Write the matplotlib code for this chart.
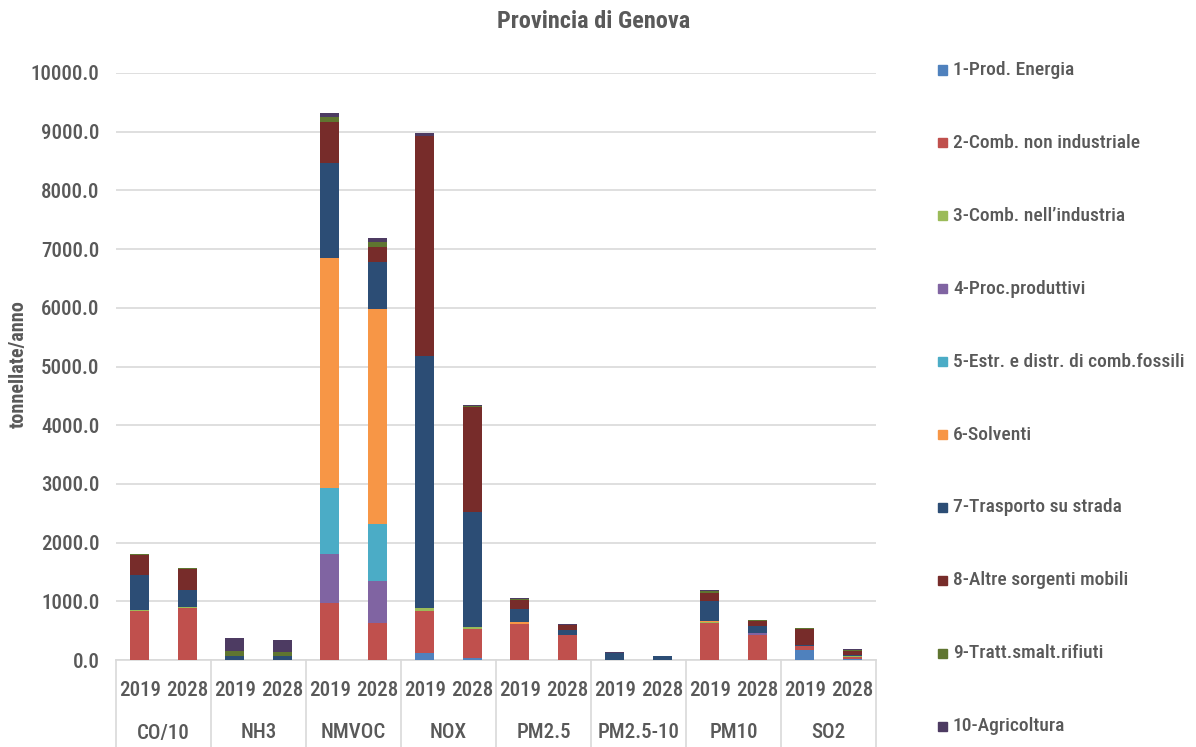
import matplotlib
matplotlib.use("Agg")
import matplotlib.pyplot as plt
from matplotlib import font_manager
from matplotlib.font_manager import FontProperties
from matplotlib.patches import Rectangle
import numpy as np

pollutants = ["CO/10", "NH3", "NMVOC", "NOX", "PM2.5", "PM2.5-10", "PM10", "SO2"]
years = ["2019", "2028"]

sources = [
    "1-Prod. Energia",
    "2-Comb. non industriale",
    "3-Comb. nell\u2019industria",
    "4-Proc.produttivi",
    "5-Estr. e distr. di comb.fossili",
    "6-Solventi",
    "7-Trasporto su strada",
    "8-Altre sorgenti mobili",
    "9-Tratt.smalt.rifiuti",
    "10-Agricoltura",
]

# values per pollutant, 2019 then 2028 (t/anno)
prod_energia = [0, 0, 0, 0, 0, 0, 115, 30, 0, 0, 0, 0, 0, 0, 176, 20]
comb_non_ind = [840, 880, 0, 0, 965, 625, 720, 500, 610, 426, 0, 0, 635, 423, 60, 35]
comb_ind = [5, 20, 0, 0, 0, 0, 45, 40, 5, 0, 0, 0, 5, 0, 5, 5]
proc_produttivi = [0, 0, 0, 0, 840, 720, 0, 0, 0, 0, 0, 0, 0, 36, 0, 15]
estr_distr = [0, 0, 0, 0, 1130, 965, 0, 0, 0, 0, 0, 0, 0, 0, 0, 0]
solventi = [0, 0, 0, 0, 3920, 3665, 0, 0, 25, 0, 0, 0, 25, 0, 0, 0]
trasporto = [608, 300, 70, 60, 1605, 810, 4300, 1950, 230, 85, 120, 70, 335, 128, 15, 10]
altre_mobili = [340, 350, 0, 0, 705, 255, 3753, 1790, 145, 80, 0, 0, 140, 83, 280, 75]
rifiuti = [15, 20, 80, 70, 80, 75, 0, 15, 25, 5, 0, 0, 30, 5, 5, 15]
agricoltura = [0, 0, 230, 210, 80, 70, 50, 25, 10, 10, 10, 5, 15, 10, 5, 5]

series = [prod_energia, comb_non_ind, comb_ind, proc_produttivi, estr_distr,
          solventi, trasporto, altre_mobili, rifiuti, agricoltura]
colors = ["#4F81BD", "#C0504D", "#9BBB59", "#8064A2", "#4BACC6",
          "#F79646", "#2C4D75", "#772C2A", "#5F7530", "#4D3B62"]


def _weight_num(w):
    if isinstance(w, (int, float)):
        return int(w)
    return font_manager.weight_dict.get(str(w), 400)


def narrow_font(target_weight):
    """Pick a narrow sans-serif face close to the requested weight."""
    prefs = ["Liberation Sans Narrow", "Roboto Condensed", "Noto Sans",
             "DejaVu Sans", "Open Sans", "Lato", "Inter", "Roboto"]
    cands = []
    for f in font_manager.fontManager.ttflist:
        if f.style != "normal":
            continue
        narrow = ("Narrow" in f.name or "Condensed" in f.name or
                  str(f.stretch) in ("condensed", "semi-condensed",
                                     "extra-condensed"))
        if not narrow:
            continue
        rank = next((i for i, p in enumerate(prefs) if f.name.startswith(p)),
                    len(prefs))
        cands.append((rank, abs(_weight_num(f.weight) - target_weight), f.fname))
    if cands:
        cands.sort()
        return cands[0][2]
    return None


reg_file = narrow_font(500)
bold_file = narrow_font(700)


def fp(size, bold=False):
    f = bold_file if bold else reg_file
    if f:
        return FontProperties(fname=f, size=size)
    return FontProperties(family="DejaVu Sans", size=size * 0.85,
                          weight="bold" if bold else "normal")


text_col = "#595959"
W, H = 1196, 747
fig = plt.figure(figsize=(W / 100, H / 100), dpi=100)
ax = fig.add_axes([116 / W, (H - 660) / H, 760 / W, (660 - 73) / H])

n = len(pollutants) * len(years)
x = np.arange(n)
bottom = np.zeros(n)
for vals, col in zip(series, colors):
    v = np.array(vals, dtype=float)
    ax.bar(x, v, width=0.4, bottom=bottom, color=col, linewidth=0, zorder=3)
    bottom += v

ax.set_xlim(-0.5, n - 0.5)
ax.set_ylim(0, 10000)
ticks = np.arange(0, 10001, 1000)
ax.set_yticks(ticks)
ax.set_yticklabels([f"{t:.1f}" for t in ticks], color=text_col)
for lab in ax.get_yticklabels():
    lab.set_fontproperties(fp(15))
ax.tick_params(axis='y', length=0, pad=12)
ax.set_xticks([])
ax.grid(axis='y', color="#D9D9D9", linewidth=1.2, zorder=0)
for s in ["top", "right", "left"]:
    ax.spines[s].set_visible(False)
ax.spines["bottom"].set_color("#D9D9D9")
ax.spines["bottom"].set_linewidth(1.2)

# two-level category axis
trans = ax.get_xaxis_transform()
depth = -(H - 660) / (660 - 73)
for k in range(len(pollutants) + 1):
    xb = k * 2 - 0.5
    ax.plot([xb, xb], [0, depth], transform=trans, color="#D9D9D9",
            linewidth=1.2, clip_on=False)
yr_y = -(690 - 660) / (660 - 73)
cat_y = -(733 - 660) / (660 - 73)
for i in range(n):
    ax.text(x[i], yr_y, years[i % 2], transform=trans, ha='center', va='center',
            fontproperties=fp(15), color=text_col)
for k, p in enumerate(pollutants):
    ax.text(2 * k + 0.5, cat_y, p, transform=trans, ha='center', va='center',
            fontproperties=fp(15), color=text_col)

fig.text(594 / W, 1 - 21 / H, "Provincia di Genova", ha='center', va='center',
         fontproperties=fp(17.5, bold=True), color=text_col)
fig.text(18 / W, 1 - 364 / H, "tonnellate/anno", rotation=90, ha='center',
         va='center', fontproperties=fp(14.5, bold=True), color=text_col)

# legend
leg_y0, leg_dy = 70, 72.9
for i, (lab, col) in enumerate(zip(sources, colors)):
    yc = leg_y0 + i * leg_dy
    fig.patches.append(Rectangle((938 / W, 1 - (yc + 4.5) / H), 9 / W, 9 / H,
                                 transform=fig.transFigure, color=col))
    fig.text(953 / W, 1 - yc / H, lab, ha='left', va='center',
             fontproperties=fp(14), color=text_col)

fig.savefig("out.png", dpi=100)
